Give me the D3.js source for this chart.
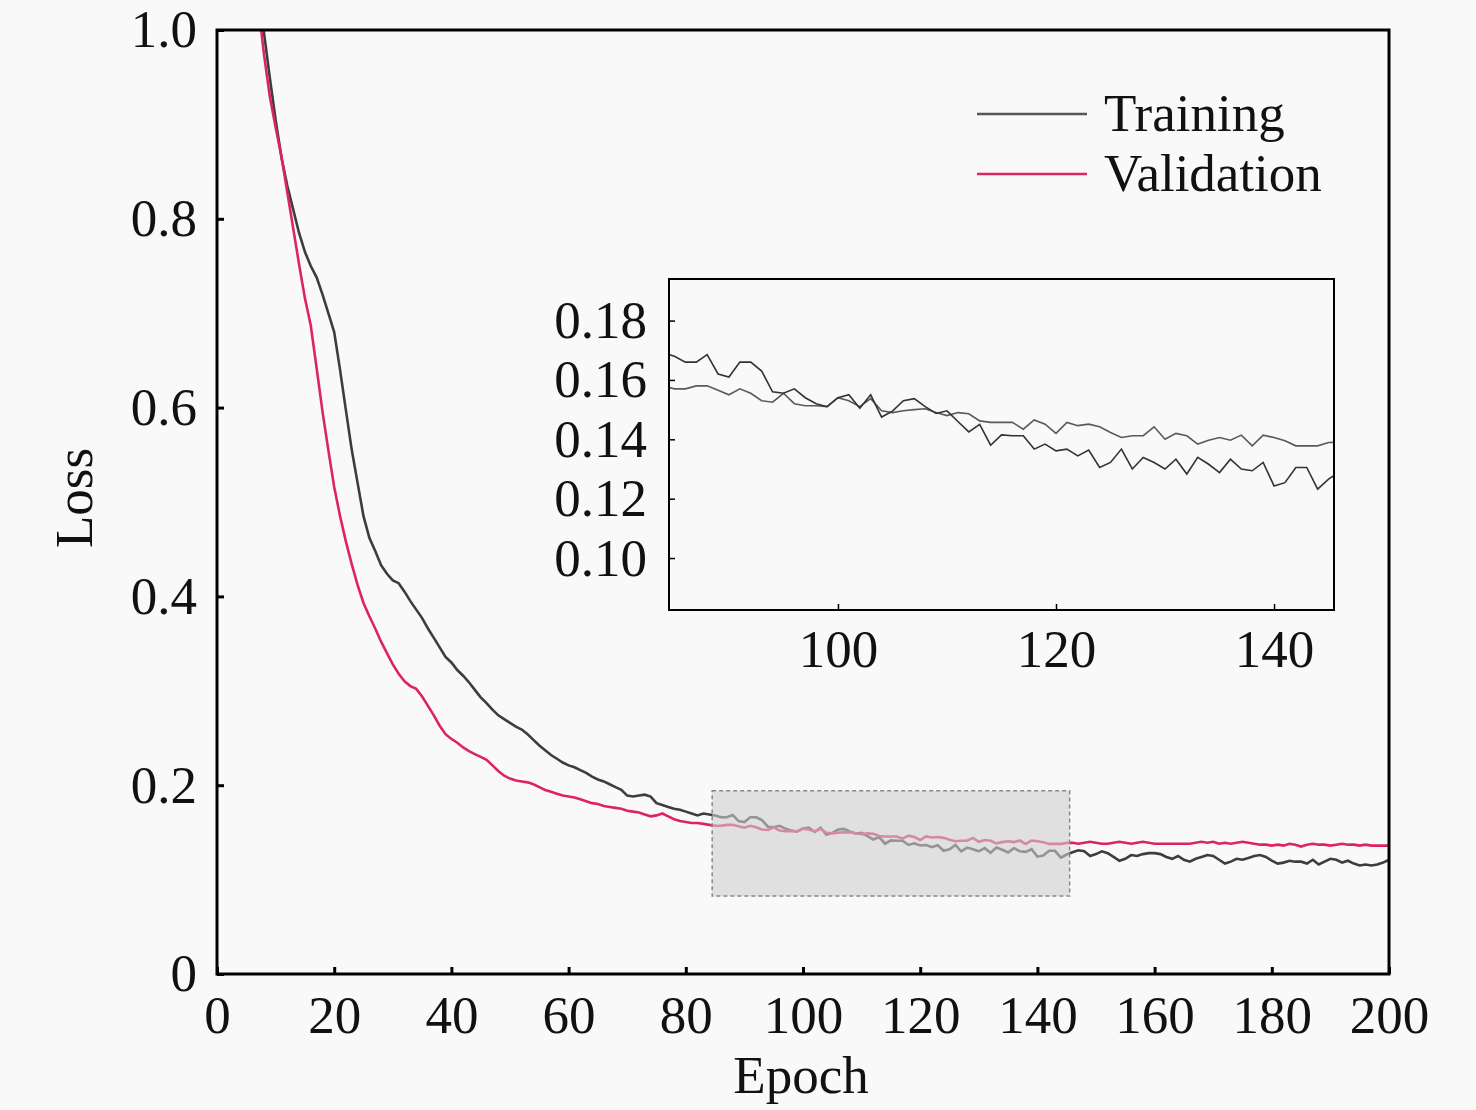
<!DOCTYPE html>
<html>
<head>
<meta charset="utf-8">
<script src="https://cdn.jsdelivr.net/npm/d3@7"></script>
<style>
  html, body { margin: 0; padding: 0; background: #f9f9f9; }
  svg { display: block; font-family: "Liberation Serif", "Times New Roman", serif; }
</style>
</head>
<body>
<div id="chart"></div>
<script>
// Training / validation loss curves with zoomed inset
const epochs = d3.range(7, 201); // one value per epoch, 7..200

const trainLoss = [
  1.05, 0.998, 0.95, 0.905, 0.865, 0.835, 0.81, 0.785, 0.765, 0.75,
  0.738, 0.72, 0.70, 0.68, 0.64, 0.597, 0.555, 0.52, 0.485, 0.462,
  0.448, 0.433, 0.424, 0.417, 0.414, 0.405, 0.395, 0.386, 0.377, 0.366,
  0.356, 0.346, 0.336, 0.330, 0.322, 0.316, 0.309, 0.301, 0.293, 0.287,
  0.280, 0.274, 0.270, 0.266, 0.262, 0.259, 0.254, 0.248, 0.242, 0.237,
  0.232, 0.228, 0.224, 0.221, 0.219, 0.216, 0.213, 0.209, 0.206, 0.204,
  0.201, 0.198, 0.195, 0.189, 0.188, 0.189, 0.190, 0.188, 0.181, 0.179,
  0.177, 0.175, 0.174, 0.172, 0.170, 0.168, 0.170, 0.169,
  // 85..115
  0.168, 0.166, 0.166, 0.1685, 0.162, 0.161, 0.166, 0.166, 0.163, 0.156,
  0.1555, 0.157, 0.154, 0.152, 0.151, 0.154, 0.155, 0.1505, 0.155, 0.1475,
  0.1495, 0.153, 0.1537, 0.151, 0.1487, 0.1496, 0.146, 0.1425, 0.145, 0.138,
  0.1415,
  // 116..145
  0.1412, 0.1412, 0.1367, 0.1384, 0.1361, 0.1367, 0.1344, 0.1364, 0.1305, 0.1322,
  0.1367, 0.130, 0.1339, 0.1322, 0.130, 0.1333, 0.1283, 0.1339, 0.1316, 0.1288,
  0.1333, 0.130, 0.1294, 0.1322, 0.1243, 0.1254, 0.1305, 0.1305, 0.1232, 0.1266,
  // 146..200
  0.129, 0.131, 0.130, 0.125, 0.127, 0.130, 0.128, 0.124, 0.120, 0.122,
  0.126, 0.125, 0.127, 0.128, 0.128, 0.127, 0.124, 0.122, 0.125, 0.121,
  0.119, 0.122, 0.124, 0.126, 0.125, 0.121, 0.117, 0.119, 0.122, 0.121,
  0.123, 0.125, 0.126, 0.124, 0.120, 0.117, 0.118, 0.120, 0.119, 0.119,
  0.117, 0.121, 0.116, 0.119, 0.122, 0.121, 0.118, 0.120, 0.117, 0.115,
  0.116, 0.115, 0.116, 0.118, 0.121
];

const valLoss = [
  1.03, 0.975, 0.93, 0.897, 0.866, 0.828, 0.79, 0.752, 0.716, 0.687,
  0.642, 0.596, 0.555, 0.516, 0.485, 0.458, 0.434, 0.412, 0.393, 0.379,
  0.366, 0.352, 0.340, 0.328, 0.318, 0.310, 0.305, 0.302, 0.294, 0.284,
  0.274, 0.263, 0.254, 0.249, 0.245, 0.240, 0.236, 0.233, 0.230, 0.227,
  0.221, 0.215, 0.210, 0.207, 0.205, 0.204, 0.203, 0.201, 0.198, 0.195,
  0.193, 0.191, 0.189, 0.188, 0.187, 0.185, 0.183, 0.181, 0.180, 0.178,
  0.177, 0.176, 0.175, 0.173, 0.172, 0.171, 0.169, 0.167, 0.168, 0.170,
  0.167, 0.164, 0.162, 0.161, 0.160, 0.160, 0.159, 0.158,
  // 85..115
  0.157, 0.157, 0.158, 0.158, 0.1565, 0.155, 0.157, 0.1555, 0.153, 0.1525,
  0.1555, 0.152, 0.1513, 0.1513, 0.151, 0.154, 0.153, 0.151, 0.1537, 0.1496,
  0.149, 0.1496, 0.150, 0.1503, 0.149, 0.148, 0.149, 0.1486, 0.1462, 0.1457,
  0.1457,
  // 116..145
  0.1457, 0.1434, 0.1465, 0.1451, 0.142, 0.1457, 0.1446, 0.1451, 0.1442, 0.1423,
  0.1406, 0.1412, 0.1412, 0.1442, 0.140, 0.142, 0.1412, 0.1384, 0.1397, 0.1406,
  0.1397, 0.1414, 0.1378, 0.1414, 0.1406, 0.1395, 0.1378, 0.1378, 0.1378, 0.1389,
  // 146..200
  0.139, 0.138, 0.139, 0.140, 0.139, 0.138, 0.138, 0.139, 0.140, 0.139,
  0.138, 0.139, 0.140, 0.139, 0.138, 0.138, 0.138, 0.138, 0.138, 0.138,
  0.138, 0.139, 0.140, 0.139, 0.140, 0.138, 0.139, 0.138, 0.139, 0.140,
  0.139, 0.138, 0.137, 0.137, 0.136, 0.137, 0.136, 0.138, 0.137, 0.135,
  0.137, 0.138, 0.137, 0.137, 0.136, 0.137, 0.138, 0.137, 0.137, 0.136,
  0.137, 0.136, 0.136, 0.136, 0.136
];

const xTicks = [0, 20, 40, 60, 80, 100, 120, 140, 160, 180, 200];
const yTicks = [0, 0.2, 0.4, 0.6, 0.8, 1.0];
const insetXTicks = [100, 120, 140];
const insetYTicks = [0.10, 0.12, 0.14, 0.16, 0.18];
const zoomEpochs = [84.5, 145.5];
const zoomLoss = [0.0825, 0.194];
const seriesNames = ['Training', 'Validation'];

(function(){
  const W = 1476, H = 1110;
  const FS = 53;
  const trainColor = '#3d3d3d', valColor = '#dc2464';

  const svg = d3.select('#chart').append('svg')
    .attr('width', W).attr('height', H);
  svg.append('rect').attr('width', W).attr('height', H).attr('fill', '#f9f9f9');

  const m = {left:217, top:30, right:1389, bottom:974};
  const x = d3.scaleLinear().domain([0, 200]).range([m.left, m.right]);
  const y = d3.scaleLinear().domain([0, 1]).range([m.bottom, m.top]);

  const trainData = epochs.map((e,i) => ({e, v: trainLoss[i]}));
  const valData = epochs.map((e,i) => ({e, v: valLoss[i]}));

  svg.append('clipPath').attr('id','clipMain')
    .append('rect')
    .attr('x', m.left).attr('y', m.top)
    .attr('width', m.right - m.left).attr('height', m.bottom - m.top);

  const line = d3.line().x(d => x(d.e)).y(d => y(d.v));
  const plot = svg.append('g').attr('clip-path','url(#clipMain)');
  plot.append('path').datum(trainData)
    .attr('fill','none').attr('stroke', trainColor).attr('stroke-width', 2.6)
    .attr('d', line);
  plot.append('path').datum(valData)
    .attr('fill','none').attr('stroke', valColor).attr('stroke-width', 2.6)
    .attr('d', line);

  // zoom region box
  svg.append('rect')
    .attr('x', x(zoomEpochs[0])).attr('y', y(zoomLoss[1]))
    .attr('width', x(zoomEpochs[1]) - x(zoomEpochs[0]))
    .attr('height', y(zoomLoss[0]) - y(zoomLoss[1]))
    .attr('fill', '#cfcfcf').attr('fill-opacity', 0.6)
    .attr('stroke', '#888').attr('stroke-width', 1.5)
    .attr('stroke-dasharray', '4,3');

  // axes
  const xAxis = svg.append('g')
    .attr('transform', `translate(0,${m.bottom})`)
    .call(d3.axisBottom(x).tickValues(xTicks).tickSize(-7).tickPadding(21).tickFormat(d3.format('d')));
  const yAxis = svg.append('g')
    .attr('transform', `translate(${m.left},0)`)
    .call(d3.axisLeft(y).tickValues(yTicks).tickSize(-7).tickPadding(20)
      .tickFormat(d => d === 0 ? '0' : d3.format('.1f')(d)));
  [xAxis, yAxis].forEach(a => {
    a.select('.domain').remove();
    a.selectAll('line').attr('stroke','#000').attr('stroke-width', 3);
    a.selectAll('text').attr('font-size', FS).attr('font-family','Liberation Serif').attr('fill','#111');
  });

  svg.append('rect')
    .attr('x', m.left).attr('y', m.top)
    .attr('width', m.right - m.left).attr('height', m.bottom - m.top)
    .attr('fill','none').attr('stroke','#000').attr('stroke-width', 3);

  svg.append('text')
    .attr('x', 801).attr('y', 1093)
    .attr('text-anchor','middle').attr('font-size', FS).attr('fill','#111')
    .text('Epoch');
  svg.append('text')
    .attr('transform', 'translate(92,498) rotate(-90)')
    .attr('text-anchor','middle').attr('font-size', FS).attr('fill','#111')
    .text('Loss');

  // legend
  const legend = svg.append('g');
  seriesNames.forEach((name, i) => {
    const ly = 114 + i * 60;
    legend.append('line')
      .attr('x1', 977).attr('x2', 1087).attr('y1', ly).attr('y2', ly)
      .attr('stroke', i === 0 ? '#555' : valColor).attr('stroke-width', 2.6);
    legend.append('text')
      .attr('x', 1104).attr('y', ly + 17)
      .attr('font-size', FS).attr('fill','#111')
      .text(name);
  });

  // inset
  const im = {left:669, top:279, right:1334, bottom:610};
  const ix = d3.scaleLinear().domain(zoomEpochs).range([im.left, im.right]);
  const iy = d3.scaleLinear().domain(zoomLoss).range([im.bottom, im.top]);

  svg.append('rect')
    .attr('x', im.left).attr('y', im.top)
    .attr('width', im.right - im.left).attr('height', im.bottom - im.top)
    .attr('fill', '#f9f9f9');

  svg.append('clipPath').attr('id','clipInset')
    .append('rect')
    .attr('x', im.left).attr('y', im.top)
    .attr('width', im.right - im.left).attr('height', im.bottom - im.top);

  const iline = d3.line().x(d => ix(d.e)).y(d => iy(d.v));
  const inBox = d => d.e >= 84 && d.e <= 146;
  const ig = svg.append('g').attr('clip-path','url(#clipInset)');
  ig.append('path').datum(valData.filter(inBox))
    .attr('fill','none').attr('stroke','#5a5a5a').attr('stroke-width', 1.6)
    .attr('d', iline);
  ig.append('path').datum(trainData.filter(inBox))
    .attr('fill','none').attr('stroke','#333').attr('stroke-width', 1.6)
    .attr('d', iline);

  const ixAxis = svg.append('g')
    .attr('transform', `translate(0,${im.bottom})`)
    .call(d3.axisBottom(ix).tickValues(insetXTicks).tickSize(-6).tickPadding(19).tickFormat(d3.format('d')));
  const iyAxis = svg.append('g')
    .attr('transform', `translate(${im.left},0)`)
    .call(d3.axisLeft(iy).tickValues(insetYTicks).tickSize(-6).tickPadding(22).tickFormat(d3.format('.2f')));
  [ixAxis, iyAxis].forEach(a => {
    a.select('.domain').remove();
    a.selectAll('line').attr('stroke','#000').attr('stroke-width', 1.5);
    a.selectAll('text').attr('font-size', FS).attr('font-family','Liberation Serif').attr('fill','#111');
  });

  svg.append('rect')
    .attr('x', im.left).attr('y', im.top)
    .attr('width', im.right - im.left).attr('height', im.bottom - im.top)
    .attr('fill','none').attr('stroke','#000').attr('stroke-width', 2);
})();
</script>
</body>
</html>
